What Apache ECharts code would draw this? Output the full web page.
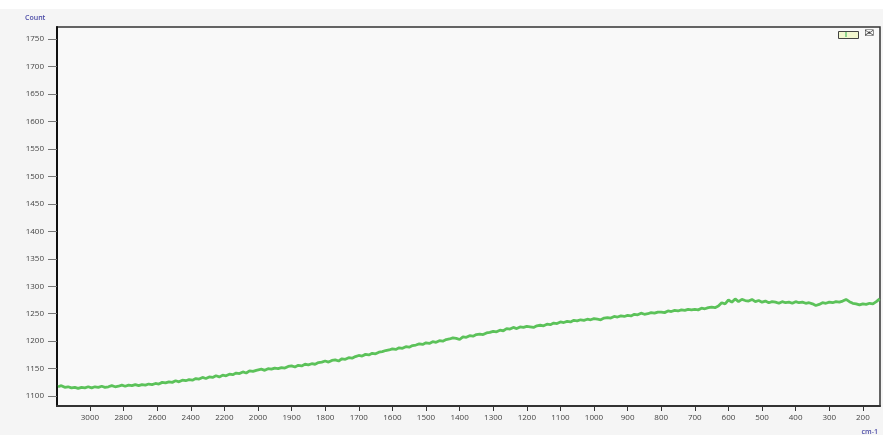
<!DOCTYPE html>
<html>
<head>
<meta charset="utf-8">
<script src="https://cdn.jsdelivr.net/npm/echarts@6/dist/echarts.min.js"></script>
<style>
html,body{margin:0;padding:0;background:#ffffff;}
#chart{width:883px;height:435px;}
</style>
</head>
<body>
<div id="chart"></div>
<script>
// Wavenumbers (cm-1) and counts
const wavenumbers = [
  3190,3170,3150,3130,3110,3090,3070,3050,3030,3010,
  2990,2970,2950,2930,2910,2890,2870,2850,2830,2810,
  2790,2770,2750,2730,2710,2690,2670,2650,2630,2610,
  2590,2570,2550,2530,2510,2490,2470,2450,2430,2410,
  2390,2370,2350,2330,2310,2290,2270,2250,2230,2210,
  2190,2170,2150,2130,2110,2090,2070,2050,2030,2010,
  2000,1990,1980,1970,1960,1950,1940,1930,1920,1910,
  1900,1890,1880,1870,1860,1850,1840,1830,1820,1810,
  1800,1790,1780,1770,1760,1750,1740,1730,1720,1710,
  1700,1690,1680,1670,1660,1650,1640,1630,1620,1610,
  1600,1590,1580,1570,1560,1550,1540,1530,1520,1510,
  1500,1490,1480,1470,1460,1450,1440,1430,1420,1410,
  1400,1390,1380,1370,1360,1350,1340,1330,1320,1310,
  1300,1290,1280,1270,1260,1250,1240,1230,1220,1210,
  1200,1190,1180,1170,1160,1150,1140,1130,1120,1110,
  1100,1090,1080,1070,1060,1050,1040,1030,1020,1010,
  1000,990,980,970,960,950,940,930,920,910,
  900,890,880,870,860,850,840,830,820,810,
  800,790,780,770,760,750,740,730,720,710,
  700,690,680,670,660,650,640,630,620,610,
  600,590,580,570,560,550,540,530,520,510,
  500,490,480,470,460,450,440,430,420,410,
  400,390,380,370,360,350,340,330,320,310,
  300,290,280,270,260,250,240,230,220,210,
  200,190,180,170,160,150
];
const counts = [
  1117,1119,1116,1117,1115,1116,1114,1116,1115,1117,
  1115,1117,1116,1118,1116,1117,1119,1117,1118,1120,
  1118,1120,1119,1121,1119,1121,1120,1122,1121,1123,
  1122,1125,1124,1126,1125,1128,1126,1129,1128,1130,
  1129,1132,1131,1134,1132,1135,1134,1137,1135,1138,
  1137,1140,1139,1142,1141,1144,1142,1146,1145,1147,
  1148,1149,1147,1150,1149,1151,1150,1152,1151,1154,
  1155,1153,1156,1155,1158,1157,1159,1158,1161,1162,
  1164,1162,1165,1166,1164,1168,1167,1170,1169,1172,
  1174,1173,1176,1175,1178,1177,1180,1181,1183,1184,
  1186,1185,1188,1187,1190,1189,1192,1193,1195,1194,
  1197,1196,1199,1198,1201,1200,1203,1204,1206,1205,
  1203,1208,1207,1210,1209,1212,1213,1212,1215,1216,
  1218,1217,1220,1219,1223,1222,1225,1223,1226,1225,
  1227,1226,1225,1228,1229,1228,1231,1230,1233,1232,
  1235,1234,1236,1235,1238,1237,1239,1238,1240,1239,
  1241,1240,1239,1242,1243,1242,1245,1244,1246,1245,
  1247,1246,1249,1248,1251,1249,1250,1252,1251,1253,
  1253,1252,1255,1254,1256,1255,1257,1256,1258,1257,
  1258,1257,1260,1259,1261,1262,1261,1264,1270,1268,
  1275,1271,1277,1272,1276,1274,1273,1276,1272,1274,
  1271,1273,1270,1272,1271,1269,1272,1270,1271,1269,
  1272,1270,1271,1269,1270,1268,1265,1267,1270,1269,
  1271,1270,1272,1271,1273,1276,1272,1269,1268,1266,
  1268,1267,1269,1268,1272,1277
];
const xTickLabels = [3000,2800,2600,2400,2200,2000,1900,1800,1700,1600,1500,1400,1300,1200,1100,1000,900,800,700,600,500,400,300,200];
const yTickLabels = [1100,1150,1200,1250,1300,1350,1400,1450,1500,1550,1600,1650,1700,1750];

// Axis has a scale break at 2000: 200 cm-1 per division above, 100 cm-1 per division below
function toU(wn){ return wn >= 2000 ? (3000 - wn) / 200 : 5 + (2000 - wn) / 100; }
function fromU(u){ return u <= 5 ? 3000 - 200 * u : 2000 - 100 * (u - 5); }

const seriesData = wavenumbers.map((w, i) => [toU(w), counts[i]]);
const xTickPos = xTickLabels.map(toU);

const labelFont = '"Open Sans", "DejaVu Sans", sans-serif';
const chart = echarts.init(document.getElementById('chart'), null, {renderer: 'canvas'});
chart.setOption({
  backgroundColor: '#f5f5f5',
  animation: false,
  grid: {
    left: 57, right: 3, top: 27, bottom: 29,
    show: true, backgroundColor: '#f9f9f9', borderColor: '#333', borderWidth: 1.5
  },
  graphic: [
    {type: 'rect', left: 0, top: 0, shape: {width: 883, height: 9}, style: {fill: '#ffffff'}, silent: true},
    {type: 'text', left: 25, top: 14, style: {text: 'Count', fill: '#4a4aa6', font: '600 7px ' + labelFont}},
    {type: 'text', right: 5, top: 428, style: {text: 'cm-1', fill: '#4a4aa6', font: '600 7px ' + labelFont}},
    {type: 'rect', left: 838, top: 31, shape: {width: 20, height: 7}, style: {fill: '#f2f7cf', stroke: '#444', lineWidth: 1}},
    {type: 'rect', left: 845, top: 32, shape: {width: 2, height: 5}, style: {fill: '#8fd58d'}},
    {type: 'text', left: 864, top: 28, style: {text: '\u2709', fill: '#444', font: '12px "DejaVu Sans"'}}
  ],
  xAxis: {
    type: 'value',
    min: -0.98, max: 23.51,
    splitLine: {show: false},
    axisLine: {show: true, onZero: false, lineStyle: {color: '#333', width: 2}},
    axisTick: {show: true, customValues: xTickPos, length: 5, lineStyle: {color: '#333', width: 1}},
    axisLabel: {
      customValues: xTickPos,
      formatter: v => String(Math.round(fromU(v))),
      color: '#444', fontSize: 8, fontFamily: labelFont, margin: 8
    }
  },
  yAxis: {
    type: 'value',
    min: 1082, max: 1772,
    splitLine: {show: false},
    axisLine: {show: true, onZero: false, lineStyle: {color: '#111', width: 2}},
    axisTick: {show: true, customValues: yTickLabels, length: 9, lineStyle: {color: '#777', width: 1}},
    axisLabel: {
      customValues: yTickLabels,
      formatter: v => String(v),
      color: '#444', fontSize: 8, fontFamily: labelFont, margin: 13
    }
  },
  series: [{
    type: 'line',
    data: seriesData,
    showSymbol: false,
    lineStyle: {color: '#5cc25a', width: 2.8},
    itemStyle: {color: '#5cc25a'}
  }]
});
</script>
</body>
</html>
